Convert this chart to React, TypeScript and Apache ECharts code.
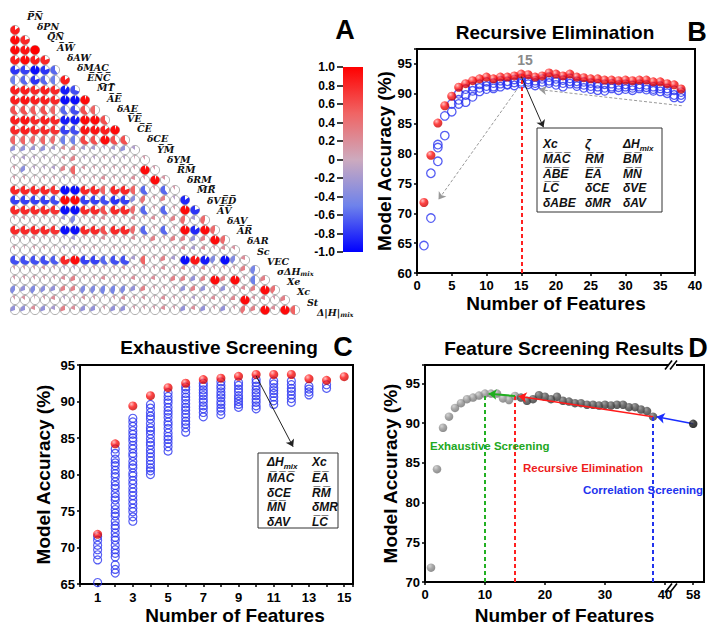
import React, { useEffect, useRef } from 'react';
import * as echarts from 'echarts';

const SANS = '"Liberation Sans", Arial, Helvetica, sans-serif';
const SERIF = '"DejaVu Serif", serif';

const ov = (s: string): string => s.split('').map((c) => c + '\u0305').join('');

// ---------------- Panel A : correlation matrix ----------------
const MATRIX_LABELS: string[] = [
  ov('PN'), 'δPN', ov('QN'), ov('AW'), 'δAW', 'δMAC', ov('ENC'), ov('MT'), ov('AE'), 'δAE',
  ov('VE'), ov('CE'), 'δCE', ov('YM'), 'δYM', ov('RM'), 'δRM', ov('MR'), 'δV' + ov('ED'), ov('AV'),
  'δAV', ov('AR'), 'δAR', 'Sc', 'VEC', 'σΔH{s|mix}', 'Xe', 'Xc', 'St', 'Δ|H|{s|mix}',
];

// row k (k = 1..29) holds correlations of variable k with variables 0..k-1
const CORR_ROWS: number[][] = [
  [0.85],
  [0.95, 0.8],
  [0.95, 0.9, 1.0],
  [0.85, 0.95, 0.85, 0.8],
  [-0.8, -0.75, -0.95, -0.8, -0.6],
  [-0.5, -0.6, -0.8, -0.6, -0.5, 0.85],
  [0.85, 0.85, 0.8, 0.85, 0.8, -0.9, -0.7],
  [0.85, 0.9, 0.85, 0.85, 0.8, -0.95, -0.95, 0.95],
  [0.6, 0.6, 0.55, 0.6, 0.5, -0.6, -0.7, 0.6, 0.5],
  [0.85, 0.9, 0.8, 0.85, 0.8, -0.9, -0.9, 0.95, 0.95, 0.6],
  [0.8, 0.85, 0.8, 0.8, 0.75, -0.75, -0.7, 0.9, 0.9, 0.85, 0.95],
  [0.5, 0.5, 0.45, 0.5, 0.45, -0.5, -0.5, 0.65, 0.6, 0.95, 0.6, 0.6],
  [-0.3, -0.3, -0.25, -0.3, -0.2, 0.2, 0.25, -0.2, -0.2, -0.1, -0.2, -0.3, -0.15],
  [-0.1, -0.15, -0.1, -0.1, -0.05, 0.15, 0.3, -0.1, -0.1, 0.1, -0.1, -0.1, 0.05, 0.1],
  [0.1, -0.35, -0.1, -0.1, -0.15, 0.3, 0.5, 0.15, 0.1, 0.1, 0.1, 0.1, 0.1, 0.95, 0.1],
  [0.1, 0.1, 0.05, 0.1, 0.1, -0.1, 0.1, 0.1, 0.1, 0.2, 0.1, 0.1, 0.2, 0.1, 0.95, 0.15],
  [0.8, 0.8, 0.8, 0.8, 0.75, -0.95, -0.95, 0.8, 0.8, 0.5, 0.8, 0.8, 0.5, -0.6, 0.1, -0.6, 0.1],
  [-0.75, -0.75, -0.75, -0.75, -0.7, 0.95, 0.95, -0.75, -0.75, -0.7, -0.8, -0.75, -0.35, 0.4, 0.1, 0.3, -0.1, -0.85],
  [0.8, 0.8, 0.8, 0.8, 0.75, -0.95, -0.95, 0.8, 0.8, 0.6, 0.8, 0.8, 0.45, -0.6, 0.1, -0.6, 0.1, 0.95, -0.8],
  [0.1, 0.15, 0.1, 0.1, 0.1, -0.2, -0.4, 0.1, 0.15, 0.2, 0.1, 0.1, 0.2, 0.1, 0.2, 0.1, 0.3, 0.45, -0.2, 0.45],
  [0.8, 0.8, 0.8, 0.8, 0.75, -0.95, -0.95, 0.8, 0.8, 0.6, 0.8, 0.8, 0.45, -0.6, 0.1, -0.6, 0.1, 0.95, -0.85, 0.95, 0.45],
  [0.1, 0.1, 0.15, 0.1, 0.1, -0.1, -0.2, 0.1, 0.1, 0.2, 0.1, 0.1, 0.2, 0.1, 0.3, 0.1, 0.3, 0.3, -0.3, 0.3, 0.95, 0.45],
  [0.1, 0.05, 0.1, 0.1, 0.05, -0.1, -0.1, 0.1, 0.1, 0.05, 0.1, 0.1, 0.05, 0.1, 0.1, 0.1, 0.1, 0.2, -0.2, 0.2, 0.1, 0.2, 0.15],
  [-0.7, -0.7, -0.7, -0.7, -0.65, 0.8, 0.95, -0.75, -0.75, -0.6, -0.7, -0.7, -0.2, 0.5, 0.1, 0.3, -0.2, -0.95, 0.9, -0.9, -0.4, -0.95, -0.4, 0.2],
  [0.1, 0.1, 0.1, 0.15, 0.1, -0.1, -0.1, 0.1, 0.1, 0.1, 0.1, 0.15, 0.1, 0.1, 0.1, 0.2, 0.1, 0.2, -0.1, 0.2, 0.1, 0.1, 0.1, 0.3, -0.45],
  [0.1, 0.1, 0.1, 0.1, 0.1, 0.2, 0.3, 0.1, 0.1, 0.2, 0.1, 0.1, 0.2, 0.1, 0.2, 0.1, 0.3, 0.3, -0.3, 0.3, 0.95, 0.3, 0.95, 0.1, -0.5, 0.3],
  [-0.4, -0.3, -0.4, -0.35, -0.3, 0.3, 0.3, -0.4, -0.4, -0.45, -0.45, -0.4, -0.3, 0.3, 0.1, 0.1, 0.1, -0.3, 0.3, -0.3, 0.1, -0.3, 0.1, 0.2, 0.3, 0.95, 0.4],
  [0.1, 0.15, 0.05, 0.1, 0.2, -0.1, 0.1, 0.15, 0.1, 0.05, 0.1, 0.2, 0.1, 0.15, 0.05, 0.2, 0.1, 0.1, -0.15, 0.1, 0.2, 0.1, 0.25, 0.95, 0.15, 0.2, 0.1, 0.3],
  [-0.3, -0.3, 0.2, -0.3, -0.2, 0.3, 0.2, -0.3, -0.3, 0.1, -0.3, -0.3, 0.1, 0.1, 0.1, 0.2, 0.1, -0.3, 0.2, -0.3, 0.1, -0.3, 0.1, 0.4, 0.3, 0.95, 0.2, 0.95, 0.5],
];

const PALETTE: [number, [number, number, number]][] = [
  [-1, [0, 0, 255]],
  [-0.5, [110, 130, 235]],
  [0, [205, 170, 190]],
  [0.5, [240, 100, 100]],
  [1, [255, 0, 0]],
];

function colorFor(r: number): string {
  const v = Math.max(-1, Math.min(1, r));
  for (let i = 0; i < PALETTE.length - 1; i++) {
    const [a, ca] = PALETTE[i];
    const [b, cb] = PALETTE[i + 1];
    if (v >= a && v <= b) {
      const t = (v - a) / (b - a);
      const c = ca.map((x, idx) => Math.round(x + (cb[idx] - x) * t));
      return `rgb(${c[0]},${c[1]},${c[2]})`;
    }
  }
  return 'rgb(255,0,0)';
}

// ---------------- Panel B : recursive elimination ----------------
// best accuracy at 1..38 features
const B_RED: number[] = [
  71.8, 79.7, 85.1, 88.0, 89.6, 91.1, 91.7, 92.2, 92.5, 92.8,
  92.5, 92.8, 92.8, 93.0, 93.3, 93.2, 92.8, 93.0, 93.5, 93.3,
  93.0, 93.3, 92.8, 92.7, 92.5, 92.5, 92.3, 92.3, 92.2, 92.3,
  92.2, 92.3, 92.3, 92.0, 92.0, 91.7, 91.5, 90.8,
];
// other runs at 1..38 features
const B_BLUE: number[][] = [
  [64.6],
  [76.7, 69.2],
  [81.5, 81.0, 78.7],
  [86.3, 83.0],
  [88.3, 87.0],
  [90.0, 89.0, 88.3],
  [90.8, 89.8, 88.6],
  [91.2, 90.5, 89.5],
  [91.6, 91.0, 90.4],
  [92.0, 91.3, 90.8],
  [91.8, 91.2, 90.9],
  [92.2, 91.7, 91.2],
  [92.1, 91.6, 91.5],
  [92.4, 91.9, 91.4],
  [92.6, 92.0, 91.7],
  [92.4, 92.0, 91.6],
  [92.2, 91.8, 91.4],
  [92.5, 92.0, 91.5],
  [92.8, 92.2, 91.8],
  [92.5, 92.0, 91.5],
  [92.3, 91.8, 91.2],
  [92.6, 92.1, 91.7],
  [92.1, 91.7, 91.3],
  [92.0, 91.5, 91.0],
  [91.8, 91.3, 90.8],
  [91.7, 91.2, 90.6],
  [91.6, 91.0, 90.5],
  [91.7, 91.2, 90.9],
  [91.5, 91.1, 90.6],
  [91.6, 91.2, 90.8],
  [91.4, 91.0, 90.6],
  [91.6, 91.2, 90.9],
  [91.5, 91.1, 90.7],
  [91.2, 90.8, 90.5],
  [91.3, 90.9, 90.4],
  [90.9, 90.5, 90.1],
  [90.6, 89.8, 89.4],
  [90.3, 89.8, 89.3],
];
const B_SELECTED = 15;
const B_BOX_FEATURES: string[][] = [
  ['Xc', 'ζ', 'ΔH{s|mix}'],
  [ov('MAC'), ov('RM'), ov('BM')],
  [ov('ABE'), ov('EA'), ov('MN')],
  [ov('LC'), 'δCE', 'δVE'],
  ['δABE', 'δMR', 'δAV'],
];

// ---------------- Panel C : exhaustive screening ----------------
const C_RED: number[] = [71.8, 84.2, 89.4, 90.8, 91.9, 92.5, 93.0, 93.2, 93.45, 93.7, 93.7, 93.7, 93.1, 92.9, 93.4];
const C_BLUE: number[][] = [
  [71.5, 71.0, 70.3, 69.7, 69.0, 68.3, 65.2],
  [83.5, 82.9, 82.1, 81.6, 81.2, 80.6, 80.1, 79.7, 79.0, 78.5, 78.1, 77.4, 76.9, 76.5, 75.8, 75.2, 74.7, 74.3, 73.6, 73.0, 72.6, 72.0, 71.4, 71.0, 70.3, 69.7, 69.2, 68.7, 67.6, 67.0, 66.5],
  [87.7, 87.2, 86.6, 86.0, 85.5, 85.0, 84.6, 84.0, 83.5, 82.9, 82.5, 81.8, 81.3, 80.9, 80.2, 79.8, 79.2, 78.7, 78.1, 77.6, 77.1, 76.5, 76.0, 75.4, 74.9, 74.2, 73.6],
  [89.6, 89.1, 88.5, 88.0, 87.6, 87.0, 86.4, 86.0, 85.5, 84.9, 84.4, 84.0, 83.4, 82.9, 82.4, 81.9, 81.4, 80.9, 80.5, 80.0],
  [91.2, 90.7, 90.2, 89.8, 89.2, 88.7, 88.3, 87.8, 87.2, 86.8, 86.3, 85.7, 85.2, 84.8, 84.3, 83.8, 83.2],
  [92.0, 91.6, 91.1, 90.6, 90.2, 89.7, 89.2, 88.8, 88.3, 87.8, 87.3, 86.9, 86.4, 85.8],
  [92.5, 92.1, 91.6, 91.2, 90.8, 90.3, 89.9, 89.4, 89.0, 88.5, 87.9],
  [92.7, 92.2, 91.8, 91.3, 90.9, 90.5, 90.0, 89.6, 89.1, 88.7, 88.2],
  [92.6, 92.2, 91.7, 91.3, 90.8, 90.4, 90.0, 89.6, 89.2],
  [93.0, 92.6, 92.1, 91.6, 91.2, 90.8, 90.3, 89.9, 89.4, 89.0],
  [92.8, 92.4, 91.9, 91.5, 91.1, 90.6, 90.1, 89.6],
  [92.8, 92.3, 91.8, 91.4, 90.9, 90.4, 89.9],
  [92.1, 91.7, 91.3, 90.9],
  [92.3, 91.8],
];
const C_SELECTED = 10;
const C_BOX_FEATURES: string[][] = [
  ['ΔH{s|mix}', 'Xc'],
  [ov('MAC'), ov('EA')],
  ['δCE', ov('RM')],
  [ov('MN'), 'δMR'],
  ['δAV', ov('LC')],
];

// ---------------- Panel D : summary ----------------
const D_FULL_N = 58;
const D_FULL_ACC = 89.9;
const D_CORR_N = 38;
const D_BREAK_START = 41;
const D_BREAK_POS = 44.7; // where 58 sits on the broken axis
const D_TICKS = [0, 10, 20, 30, 40, D_FULL_N];
const toD = (n: number) => (n > D_BREAK_START ? D_BREAK_POS + (n - D_FULL_N) : n);

function buildOption(): any {
  const matrixData: number[][] = [];
  CORR_ROWS.forEach((row, i) => row.forEach((r, j) => matrixData.push([j, i + 1, r])));

  const lbl = { color: '#000', fontFamily: SANS, fontWeight: 'bold', fontSize: 13 };
  const aLine = { show: true, lineStyle: { color: '#000', width: 2 } };
  const aTick = { show: true, inside: false, length: 3, lineStyle: { color: '#000', width: 1.5 } };
  const nameTS = { color: '#000', fontFamily: SANS, fontWeight: 'bold', fontSize: 19 };
  const mult5 = (v: number) => (Math.abs(v % 5) < 1e-6 ? String(v) : '');

  const sphere = (light: string, mid: string, dark: string) =>
    new echarts.graphic.RadialGradient(0.35, 0.3, 0.75, [
      { offset: 0, color: light },
      { offset: 0.45, color: mid },
      { offset: 1, color: dark },
    ]);
  const redSphere = sphere('#ffb0b0', '#ff1414', '#c00000');

  const frame = { show: true, borderColor: '#000', borderWidth: 2, backgroundColor: '#fff' };

  const txt = (text: string, x: number, y: number, size: number, color = '#000', align = 'center', extra: any = {}) => ({
    type: 'text',
    x,
    y,
    silent: true,
    z: 20,
    style: {
      text,
      fill: color,
      fontFamily: SANS,
      fontWeight: 'bold',
      fontSize: size,
      align,
      textAlign: align,
      verticalAlign: 'middle',
      textVerticalAlign: 'middle',
      ...extra,
    },
  });

  const boxRich = {
    s: { fontFamily: SANS, fontStyle: 'italic', fontWeight: 'bold', fontSize: 8, verticalAlign: 'bottom', lineHeight: 8 },
  };
  const boxText = (text: string, x: number, y: number) =>
    txt(text, x, y, 12, '#111', 'left', { fontStyle: 'italic', lineHeight: 16, rich: boxRich });

  const graphics: any[] = [];
  // colour bar
  graphics.push({
    type: 'rect',
    silent: true,
    shape: { x: 343, y: 67, width: 20, height: 185 },
    style: {
      fill: new echarts.graphic.LinearGradient(
        0, 0, 0, 1,
        PALETTE.slice().reverse().map(([v, c]) => ({ offset: (1 - v) / 2, color: `rgb(${c[0]},${c[1]},${c[2]})` })),
      ),
    },
  });
  // panel letters
  graphics.push(txt('A', 345, 30, 27));
  graphics.push(txt('B', 697, 32, 27));
  graphics.push(txt('C', 343, 347, 27));
  graphics.push(txt('D', 698, 348, 27));
  // titles
  graphics.push(txt('Recursive Elimination', 555, 32, 19));
  graphics.push(txt('Exhaustive Screening', 219, 347, 19));
  graphics.push(txt('Feature Screening Results', 564, 348, 19));
  // B annotations
  graphics.push(txt(String(B_SELECTED), 525, 60, 14, '#8a8a8a'));
  graphics.push({
    type: 'rect', silent: true, z: 15,
    shape: { x: 537, y: 128, width: 125, height: 84 },
    style: { fill: '#fff', stroke: '#333', lineWidth: 1 },
  });
  const bCols = [543, 585, 623];
  const bRows = [144, 159, 173.5, 188, 203];
  B_BOX_FEATURES.forEach((row, r) => row.forEach((t, c) => graphics.push(boxText(t, bCols[c], bRows[r]))));
  // C annotations
  graphics.push({
    type: 'rect', silent: true, z: 15,
    shape: { x: 258, y: 453, width: 80, height: 75 },
    style: { fill: '#fff', stroke: '#333', lineWidth: 1 },
  });
  const cCols = [267, 312];
  const cRows = [462, 478, 493, 507, 522];
  C_BOX_FEATURES.forEach((row, r) => row.forEach((t, c) => graphics.push(boxText(t, cCols[c], cRows[r]))));
  // D annotations
  graphics.push(txt('Exhaustive Screening', 430, 446, 11.5, '#22a822', 'left'));
  graphics.push(txt('Recursive Elimination', 523, 468, 11.5, '#ee1c1c', 'left'));
  graphics.push(txt('Correlation Screening', 583, 490, 11.5, '#2233ee', 'left'));
  // axis-break marks in D
  [365, 588].forEach((yy) => {
    graphics.push({ type: 'rect', silent: true, z: 18, shape: { x: 669, y: yy - 2.5, width: 7, height: 5 }, style: { fill: '#fff' } });
    graphics.push({ type: 'line', silent: true, z: 19, shape: { x1: 665, y1: yy + 4.5, x2: 672, y2: yy - 4.5 }, style: { stroke: '#000', lineWidth: 1.6 } });
    graphics.push({ type: 'line', silent: true, z: 19, shape: { x1: 670, y1: yy + 4.5, x2: 677, y2: yy - 4.5 }, style: { stroke: '#000', lineWidth: 1.6 } });
  });

  const matrixRich = {
    s: { fontFamily: SERIF, fontStyle: 'italic', fontWeight: 'bold', fontSize: 6.5, verticalAlign: 'bottom', lineHeight: 6 },
  };

  const dash = (color: string) => ({ color, type: [4, 3], width: 2 });

  return {
    animation: false,
    backgroundColor: '#fff',
    grid: [
      { left: 10, top: 25, width: 290, height: 290, show: false },
      { left: 343, top: 67, width: 20, height: 185, show: false },
      { left: 417, top: 49, width: 278, height: 224, ...frame },
      { left: 80, top: 365, width: 273, height: 225, ...frame },
      { left: 425, top: 365, width: 279, height: 223, ...frame },
    ],
    xAxis: [
      { gridIndex: 0, type: 'value', min: -0.5, max: 28.5, show: false },
      { gridIndex: 1, type: 'value', min: 0, max: 1, show: false },
      {
        gridIndex: 2, type: 'value', min: 0, max: 40, interval: 5,
        axisLine: aLine, axisTick: aTick, splitLine: { show: false },
        axisLabel: { ...lbl, margin: 6 },
        name: 'Number of Features', nameLocation: 'middle', nameGap: 21, nameTextStyle: nameTS,
      },
      {
        gridIndex: 3, type: 'value', min: 0, max: 15.5, interval: 1,
        axisLine: aLine, axisTick: aTick, splitLine: { show: false },
        axisLabel: { ...lbl, margin: 7, formatter: (v: number) => (Math.abs(v % 2 - 1) < 1e-6 ? String(v) : '') },
        name: 'Number of Features', nameLocation: 'middle', nameGap: 22,
        nameTextStyle: { ...nameTS, padding: [0, 0, 0, 37] },
      },
      {
        gridIndex: 4, type: 'value', min: 0, max: 46.5,
        axisLine: aLine, splitLine: { show: false },
        axisTick: { ...aTick, customValues: D_TICKS.map(toD) },
        axisLabel: {
          ...lbl, margin: 6, customValues: D_TICKS.map(toD),
          formatter: (v: number) => (v > D_BREAK_START ? String(D_FULL_N) : String(Math.round(v))),
        },
        name: 'Number of Features', nameLocation: 'middle', nameGap: 24, nameTextStyle: nameTS,
      },
    ],
    yAxis: [
      { gridIndex: 0, type: 'value', min: 0.5, max: 29.5, inverse: true, show: false },
      {
        gridIndex: 1, type: 'value', min: -1, max: 1, interval: 0.2, position: 'left',
        axisLine: { show: false }, splitLine: { show: false },
        axisTick: { show: true, inside: false, length: 6, lineStyle: { color: '#000', width: 1.5 } },
        axisLabel: {
          color: '#000', fontFamily: SANS, fontWeight: 'bold', fontSize: 12, margin: 8,
          formatter: (v: number) => (Math.abs(v) < 1e-9 ? '0' : v.toFixed(1)),
        },
      },
      {
        gridIndex: 2, type: 'value', min: 60, max: 97.5, interval: 5,
        axisLine: aLine, axisTick: aTick, splitLine: { show: false },
        axisLabel: { ...lbl, margin: 5, formatter: mult5 },
        name: 'Model Accuracy (%)', nameLocation: 'middle', nameGap: 22, nameTextStyle: nameTS,
      },
      {
        gridIndex: 3, type: 'value', min: 65, max: 95, interval: 5,
        axisLine: aLine, axisTick: aTick, splitLine: { show: false },
        axisLabel: { ...lbl, margin: 5, formatter: mult5 },
        name: 'Model Accuracy (%)', nameLocation: 'middle', nameGap: 27, nameTextStyle: nameTS,
      },
      {
        gridIndex: 4, type: 'value', min: 70, max: 97.3, interval: 5,
        axisLine: aLine, axisTick: aTick, splitLine: { show: false },
        axisLabel: { ...lbl, margin: 5, formatter: mult5 },
        name: 'Model Accuracy (%)', nameLocation: 'middle', nameGap: 25, nameTextStyle: nameTS,
      },
    ],
    graphic: graphics,
    series: [
      // ---- A: pies
      {
        type: 'custom',
        xAxisIndex: 0,
        yAxisIndex: 0,
        silent: true,
        clip: false,
        data: matrixData,
        renderItem: (_p: any, api: any) => {
          const j = api.value(0);
          const k = api.value(1);
          const r = api.value(2);
          const pt = api.coord([j, k]);
          const size = api.size([1, 1]);
          const R = Math.min(size[0], size[1]) * 0.46;
          const a = Math.abs(r);
          const col = colorFor(r);
          const children: any[] = [
            { type: 'circle', shape: { cx: pt[0], cy: pt[1], r: R }, style: { fill: '#fff', stroke: '#8c8c8c', lineWidth: 0.7 } },
          ];
          if (a >= 0.99) {
            children.push({ type: 'circle', shape: { cx: pt[0], cy: pt[1], r: R }, style: { fill: col } });
          } else if (a > 0.01) {
            children.push({
              type: 'sector',
              shape: {
                cx: pt[0], cy: pt[1], r: R, r0: 0,
                startAngle: -Math.PI / 2 - a * 2 * Math.PI,
                endAngle: -Math.PI / 2,
                clockwise: true,
              },
              style: { fill: col },
            });
          }
          return { type: 'group', children };
        },
      },
      // ---- A: diagonal labels
      {
        type: 'custom',
        xAxisIndex: 0,
        yAxisIndex: 0,
        silent: true,
        clip: false,
        data: MATRIX_LABELS.map((_, k) => [k, k]),
        renderItem: (_p: any, api: any) => {
          const k = api.value(0);
          const pt = api.coord([k + 1.2, k - 0.35 + 0.02 * k]);
          return {
            type: 'text',
            x: pt[0],
            y: pt[1],
            style: {
              text: MATRIX_LABELS[k],
              fill: '#111',
              fontFamily: SERIF,
              fontStyle: 'italic',
              fontWeight: 'bold',
              fontSize: 9.5,
              lineHeight: 12,
              align: 'left',
              textAlign: 'left',
              verticalAlign: 'middle',
              textVerticalAlign: 'middle',
              rich: matrixRich,
            },
          };
        },
      },
      // ---- B
      {
        type: 'scatter', xAxisIndex: 2, yAxisIndex: 2, symbol: 'circle', symbolSize: 8.5,
        data: B_BLUE.flatMap((vals, i) => vals.map((v) => [i + 1, v])),
        itemStyle: { color: 'rgba(0,0,0,0)', borderColor: '#2a35f0', borderWidth: 1.3 },
      },
      {
        type: 'scatter', xAxisIndex: 2, yAxisIndex: 2, symbol: 'circle', symbolSize: 9,
        data: B_RED.map((v, i) => [i + 1, v]),
        itemStyle: { color: redSphere },
        markLine: {
          silent: true, symbol: ['none', 'arrow'], symbolSize: 7, label: { show: false },
          data: [
            [
              { coord: [B_SELECTED, 60], symbol: 'none', lineStyle: dash('#ff2020') },
              { coord: [B_SELECTED, B_RED[B_SELECTED - 1]], symbol: 'none' },
            ],
            [
              { coord: [B_SELECTED, B_RED[B_SELECTED - 1] - 0.4], symbol: 'none', lineStyle: { color: '#222', width: 1, type: 'solid' } },
              { coord: [18.2, 84.4], symbol: 'arrow' },
            ],
            [
              { coord: [14.3, 90.6], symbol: 'none', lineStyle: { color: '#999', width: 1, type: [3, 2] } },
              { coord: [3.1, 72.3], symbol: 'arrow' },
            ],
            [
              { coord: [38.1, 88.0], symbol: 'none', lineStyle: { color: '#999', width: 1, type: [3, 2] } },
              { coord: [17.6, 90.7], symbol: 'arrow' },
            ],
          ],
        },
      },
      // ---- C
      {
        type: 'scatter', xAxisIndex: 3, yAxisIndex: 3, symbol: 'circle', symbolSize: 8,
        data: C_BLUE.flatMap((vals, i) => vals.map((v) => [i + 1, v])),
        itemStyle: { color: 'rgba(0,0,0,0)', borderColor: '#2a35f0', borderWidth: 1.2 },
      },
      {
        type: 'scatter', xAxisIndex: 3, yAxisIndex: 3, symbol: 'circle', symbolSize: 9,
        data: C_RED.map((v, i) => [i + 1, v]),
        itemStyle: { color: redSphere },
        markLine: {
          silent: true, symbol: ['none', 'arrow'], symbolSize: 7, label: { show: false },
          data: [
            [
              { coord: [C_SELECTED, C_RED[C_SELECTED - 1] - 0.2], symbol: 'none', lineStyle: { color: '#222', width: 1, type: 'solid' } },
              { coord: [12.1, 83.8], symbol: 'arrow' },
            ],
          ],
        },
      },
      // ---- D
      {
        type: 'scatter', xAxisIndex: 4, yAxisIndex: 4, symbol: 'circle', symbolSize: 8.5,
        data: C_RED.map((v, i) => [i + 1, v]),
        itemStyle: { color: sphere('#c8c8c8', '#939393', '#6e6e6e') },
        markLine: {
          silent: true, symbol: ['none', 'none'], label: { show: false },
          data: [
            [{ coord: [C_SELECTED, 70], lineStyle: dash('#22b022') }, { coord: [C_SELECTED, C_RED[C_SELECTED - 1]] }],
            [{ coord: [B_SELECTED, 70], lineStyle: dash('#ff2020') }, { coord: [B_SELECTED, C_RED[B_SELECTED - 1]] }],
            [{ coord: [D_CORR_N, 70], lineStyle: dash('#2233ee') }, { coord: [D_CORR_N, B_RED[D_CORR_N - 1]] }],
          ],
        },
      },
      {
        type: 'scatter', xAxisIndex: 4, yAxisIndex: 4, symbol: 'circle', symbolSize: 8.5,
        data: B_RED.slice(B_SELECTED).map((v, i) => [i + B_SELECTED + 1, v]),
        itemStyle: { color: sphere('#8a8a8a', '#4e4e4e', '#2e2e2e') },
      },
      {
        type: 'scatter', xAxisIndex: 4, yAxisIndex: 4, symbol: 'circle', symbolSize: 8.5, z: 5,
        data: [[toD(D_FULL_N), D_FULL_ACC]],
        itemStyle: { color: sphere('#555', '#111', '#000') },
        markLine: {
          silent: true, symbol: ['none', 'arrow'], symbolSize: 8, label: { show: false },
          data: [
            [
              { coord: [toD(D_FULL_N), D_FULL_ACC], symbol: 'none', lineStyle: { color: '#1a2eff', width: 1.6, type: 'solid' } },
              { coord: [D_CORR_N + 0.6, B_RED[D_CORR_N - 1] - 0.02], symbol: 'arrow' },
            ],
            [
              { coord: [D_CORR_N, B_RED[D_CORR_N - 1]], symbol: 'none', lineStyle: { color: '#ff1a1a', width: 1.6, type: 'solid' } },
              { coord: [B_SELECTED + 0.6, C_RED[B_SELECTED - 1] - 0.04], symbol: 'arrow' },
            ],
            [
              { coord: [B_SELECTED, C_RED[B_SELECTED - 1]], symbol: 'none', lineStyle: { color: '#1fae1f', width: 2, type: 'solid' } },
              { coord: [C_SELECTED + 0.6, C_RED[C_SELECTED - 1] - 0.02], symbol: 'arrow' },
            ],
          ],
        },
      },
    ],
  };
}

export default function App() {
  const ref = useRef<HTMLDivElement>(null);
  useEffect(() => {
    if (!ref.current) return;
    const chart = echarts.init(ref.current, undefined, { renderer: 'svg' });
    chart.setOption(buildOption());
    return () => chart.dispose();
  }, []);
  return (
    <div
      ref={ref}
      style={{ position: 'fixed', left: 0, top: 0, width: 714, height: 626, background: '#fff' }}
    />
  );
}
